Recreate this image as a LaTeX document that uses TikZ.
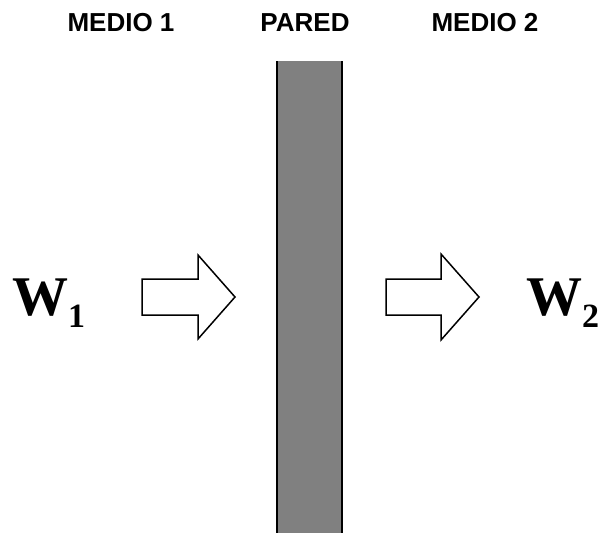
\documentclass[tikz,border=0pt]{standalone}
\usepackage{fontspec}
\setmainfont{Liberation Serif}
\newfontfamily\arialfont{Liberation Sans}
\definecolor{wallgray}{RGB}{128,128,128}
\tikzset{
  toplabel/.style={anchor=base,inner sep=0pt,font=\arialfont\bfseries\fontsize{26}{28}\selectfont},
  wlabel/.style={anchor=base west,inner sep=0pt,font=\bfseries\fontsize{56}{60}\selectfont},
  fatarrow/.style={draw=black,line width=1.5pt,fill=white,line join=miter}
}
\newcommand{\wsub}[1]{\raisebox{-12pt}{\fontsize{34}{36}\selectfont #1}}
\begin{document}
\begin{tikzpicture}[x=1pt,y=-1pt]
\useasboundingbox (0,0) rectangle (600,533);
% wall
\fill[wallgray] (277,61) rectangle (342,540);
\draw[line width=2pt] (277,61) -- (277,540);
\draw[line width=2pt] (342,61) -- (342,540);
% labels
\node[toplabel] (m1) at (121,31) {MEDIO 1};
\node[toplabel] (pa) at (305,31) {PARED};
\node[toplabel] (m2) at (485,31) {MEDIO 2};
% arrows
\draw[fatarrow] (142,279) -- (198,279) -- (198,255) -- (235,297) -- (198,339) -- (198,315) -- (142,315) -- cycle;
\draw[fatarrow] (386,279) -- (441,279) -- (441,254) -- (479,297) -- (441,340) -- (441,315) -- (386,315) -- cycle;
% W labels
\node[wlabel] (w1) at (12,315) {W\wsub{1}};
\node[wlabel] (w2) at (526,315) {W\wsub{2}};
\end{tikzpicture}
\end{document}
